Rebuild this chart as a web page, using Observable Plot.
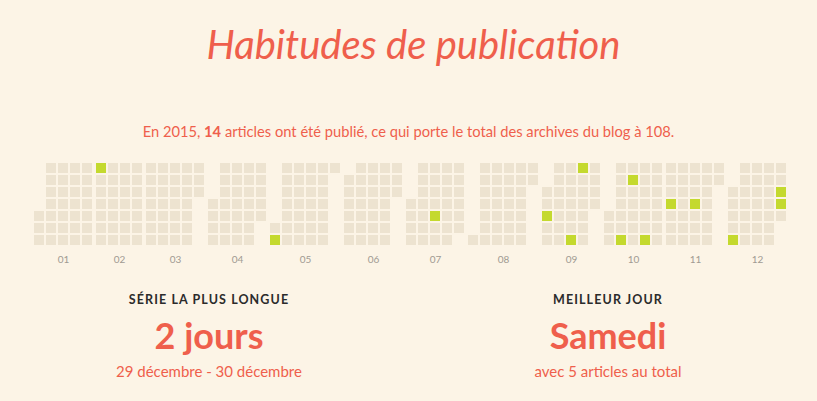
<!DOCTYPE html>
<html>
<head>
<meta charset="utf-8">
<script src="https://cdn.jsdelivr.net/npm/d3@7"></script>
<script src="https://cdn.jsdelivr.net/npm/@observablehq/plot@0.6"></script>
<style>
  html, body { margin: 0; padding: 0; background: #fcf4e6; }
  #page { position: relative; width: 817px; height: 401px; overflow: hidden; font-family: Lato, sans-serif; }
  .abs { position: absolute; left: 0; width: 817px; text-align: center; line-height: 1; white-space: nowrap; }
  #title { top: 24px; left: 5px; font-size: 40px; font-style: italic; color: #ef5f4c; }
  #subtitle { top: 123.5px; font-size: 14.7px; color: #ef5f4c; }
  #chart { position: absolute; left: 0; top: 150px; }
  .stat { position: absolute; width: 398px; text-align: center; line-height: 1; white-space: nowrap; }
  .stat .head { position: absolute; left: 0; width: 100%; top: 294px; font-size: 12.5px; font-weight: 700; letter-spacing: 1.1px; color: #2b2b2b; }
  .stat .big { position: absolute; left: 0; width: 100%; top: 317px; font-size: 36px; font-weight: 700; color: #ef5f4c; }
  .stat .small { position: absolute; left: 0; width: 100%; top: 363.5px; font-size: 15px; color: #ef5f4c; }
</style>
</head>
<body>
<div id="page">
  <div id="title" class="abs"></div>
  <div id="subtitle" class="abs"></div>
  <div id="chart"></div>
  <div class="stat" id="statL" style="left:10px;top:0;height:401px"><div class="head"></div><div class="big"></div><div class="small"></div></div>
  <div class="stat" id="statR" style="left:409px;top:0;height:401px"><div class="head"></div><div class="big"></div><div class="small"></div></div>
</div>
<script>
// ---- data ----
const year = 2015;
const monthLabels = ["01","02","03","04","05","06","07","08","09","10","11","12"];
const postDates = ["2015-02-01","2015-05-02","2015-07-16","2015-09-03","2015-09-19","2015-09-20",
                   "2015-10-10","2015-10-12","2015-10-24","2015-11-04","2015-11-18","2015-12-05",
                   "2015-12-29","2015-12-30"];
const postCounts = [1,1,1,1,1,1,1,1,1,1,1,1,1,1];
const totalArchive = 108;
const titleText = "Habitudes de publication";
const statHeads = ["SÉRIE LA PLUS LONGUE", "MEILLEUR JOUR"];
const statBig = ["2 jours", "Samedi"];
const statSmall = ["29 décembre - 30 décembre", "avec 5 articles au total"];

// ---- layout constants ----
const pitch = 12, cell = 10, monthGap = 2;

const counts = new Map(postDates.map((d, i) => [d, postCounts[i]]));
const fmt = d3.utcFormat("%Y-%m-%d");
const months = d3.utcMonths(new Date(Date.UTC(year, 0, 1)), new Date(Date.UTC(year + 1, 0, 1)));
const colsPerMonth = months.map(m => d3.utcSunday.count(m, d3.utcDay.offset(d3.utcMonth.offset(m, 1), -1)) + 1);
const colStart = d3.cumsum([0, ...colsPerMonth]);

const days = d3.utcDays(new Date(Date.UTC(year, 0, 1)), new Date(Date.UTC(year + 1, 0, 1))).map(d => {
  const m = d.getUTCMonth();
  const col = colStart[m] + d3.utcSunday.count(d3.utcMonth(d), d);
  const x1 = col * pitch + m * monthGap;
  return { date: d, month: m, weekday: d.getUTCDay(), x1, x2: x1 + cell, count: counts.get(fmt(d)) || 0 };
});

const monthCenters = months.map((m, i) => {
  const md = days.filter(d => d.month === i);
  return (d3.min(md, d => d.x1) + d3.max(md, d => d.x2)) / 2;
});
const xMax = d3.max(days, d => d.x2);

const chart = Plot.plot({
  width: 817,
  height: 125,
  marginLeft: 34,
  marginRight: 817 - 34 - xMax,
  marginTop: 13,
  marginBottom: 30,
  style: { background: "transparent", fontFamily: "Lato, sans-serif", overflow: "visible" },
  x: { type: "linear", domain: [0, xMax], axis: null },
  y: { type: "band", domain: d3.range(7), paddingInner: 1/6, paddingOuter: 0, axis: null },
  marks: [
    Plot.barX(days, { x1: "x1", x2: "x2", y: "weekday", fill: d => d.count > 0 ? "#c4d92e" : "#ede3d0" }),
    Plot.axisX(monthCenters, { tickFormat: (d, i) => monthLabels[i], tickSize: 0, tickPadding: 10.5, fontSize: 10, fill: "#a09a92", label: null })
  ]
});
document.getElementById("chart").appendChild(chart);

// ---- texts ----
const total = d3.sum(postCounts);
document.getElementById("title").textContent = titleText;
document.getElementById("subtitle").innerHTML =
  `En ${year}, <b>${total}</b> articles ont été publié, ce qui porte le total des archives du blog à ${totalArchive}.`;
["statL", "statR"].forEach((id, i) => {
  const el = document.getElementById(id);
  el.querySelector(".head").textContent = statHeads[i];
  el.querySelector(".big").textContent = statBig[i];
  el.querySelector(".small").textContent = statSmall[i];
});
</script>
</body>
</html>
